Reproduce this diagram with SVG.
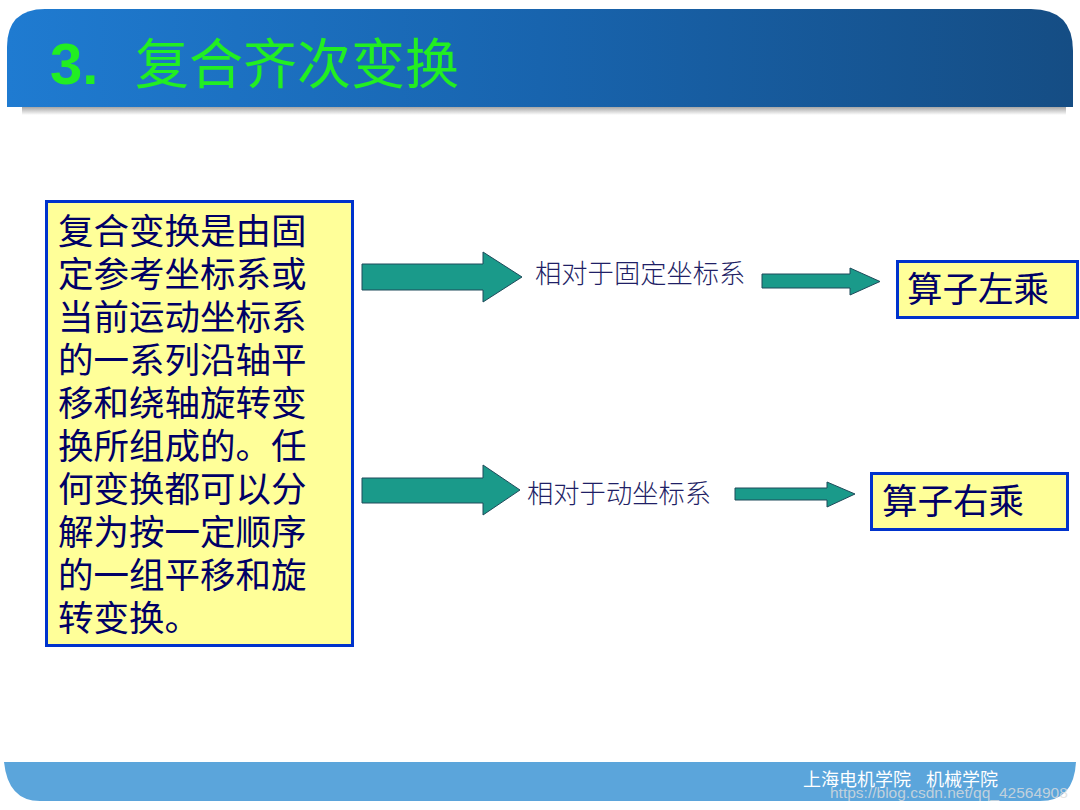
<svg xmlns="http://www.w3.org/2000/svg" width="1080" height="810" viewBox="0 0 1080 810">
<defs>
<linearGradient id="hdr" x1="0" y1="0" x2="1" y2="0">
<stop offset="0" stop-color="#1F7BD1"/>
<stop offset="0.5" stop-color="#1864AE"/>
<stop offset="1" stop-color="#154D84"/>
</linearGradient>
<linearGradient id="shd" x1="0" y1="0" x2="0" y2="1">
<stop offset="0" stop-color="#9A9A9A"/>
<stop offset="1" stop-color="#FFFFFF"/>
</linearGradient>
<style>
.box{fill:#FFFF99;stroke:#0033CC;stroke-width:3}
.arr{fill:#1A9A8A;stroke:#1F4A5A;stroke-width:1}
.big{font-family:"Noto Sans CJK SC",sans-serif;font-size:35.5px;fill:#000066}
.lbl{font-family:"Noto Sans CJK SC",sans-serif;font-size:26.3px;fill:#1F1F66;font-weight:300}
</style>
</defs>
<rect width="1080" height="810" fill="#FFFFFF"/>
<g id="header">
<rect x="22" y="106" width="1044" height="9" fill="url(#shd)"/>
<path d="M7,107 L7,47 Q7,9 45,9 L1031,9 Q1073,9 1073,51 L1073,107 Z" fill="url(#hdr)"/>
<text x="50" y="84" fill="#22EE22" font-family="'Liberation Sans',sans-serif" font-weight="bold" font-size="58">3.<tspan x="135" font-family="'Noto Sans CJK SC',sans-serif" font-weight="normal" font-size="54">复合齐次变换</tspan></text>
</g>
<g id="footer">
<path d="M4,762 L1076,762 Q1074,801 1040,801 L40,801 Q8,801 4,762 Z" fill="#5BA5DB"/>
<text x="803" y="786" fill="#FFFFFF" font-family="'Noto Sans CJK SC',sans-serif" font-size="18">上海电机学院<tspan x="926">机械学院</tspan></text>
<text x="830" y="798" fill="#DDDDDD" fill-opacity="0.8" font-family="'Liberation Sans',sans-serif" font-size="15.5">https://blog.csdn.net/qq_42564908</text>
</g>
<g id="node-definition">
<rect class="box" x="46.5" y="201.5" width="306" height="444"/>
<text class="big" x="58">
<tspan x="58" y="244">复合变换是由固</tspan>
<tspan x="58" y="287">定参考坐标系或</tspan>
<tspan x="58" y="330">当前运动坐标系</tspan>
<tspan x="58" y="373">的一系列沿轴平</tspan>
<tspan x="58" y="416">移和绕轴旋转变</tspan>
<tspan x="58" y="459">换所组成的。任</tspan>
<tspan x="58" y="502">何变换都可以分</tspan>
<tspan x="58" y="545">解为按一定顺序</tspan>
<tspan x="58" y="588">的一组平移和旋</tspan>
<tspan x="58" y="631">转变换。</tspan>
</text>
</g>
<g id="node-left">
<rect class="box" x="897.5" y="261.5" width="180" height="56"/>
<text class="big" x="907" y="302">算子左乘</text>
</g>
<g id="node-right">
<rect class="box" x="871.5" y="473.5" width="196" height="56"/>
<text class="big" x="882" y="514">算子右乘</text>
</g>
<g id="connectors">
<path class="arr" d="M362,264 L483,264 L483,252 L522,277 L483,302 L483,290 L362,290 Z"/>
<text class="lbl" x="535" y="283">相对于固定坐标系</text>
<path class="arr" d="M762,274 L850,274 L850,268 L880,281.5 L850,295 L850,288 L762,288 Z"/>
<path class="arr" d="M362,478 L483,478 L483,465 L520,490 L483,515 L483,503 L362,503 Z"/>
<text class="lbl" x="527" y="503">相对于动坐标系</text>
<path class="arr" d="M735,488 L827,488 L827,482 L855,494 L827,507 L827,500 L735,500 Z"/>
</g>
</svg>
